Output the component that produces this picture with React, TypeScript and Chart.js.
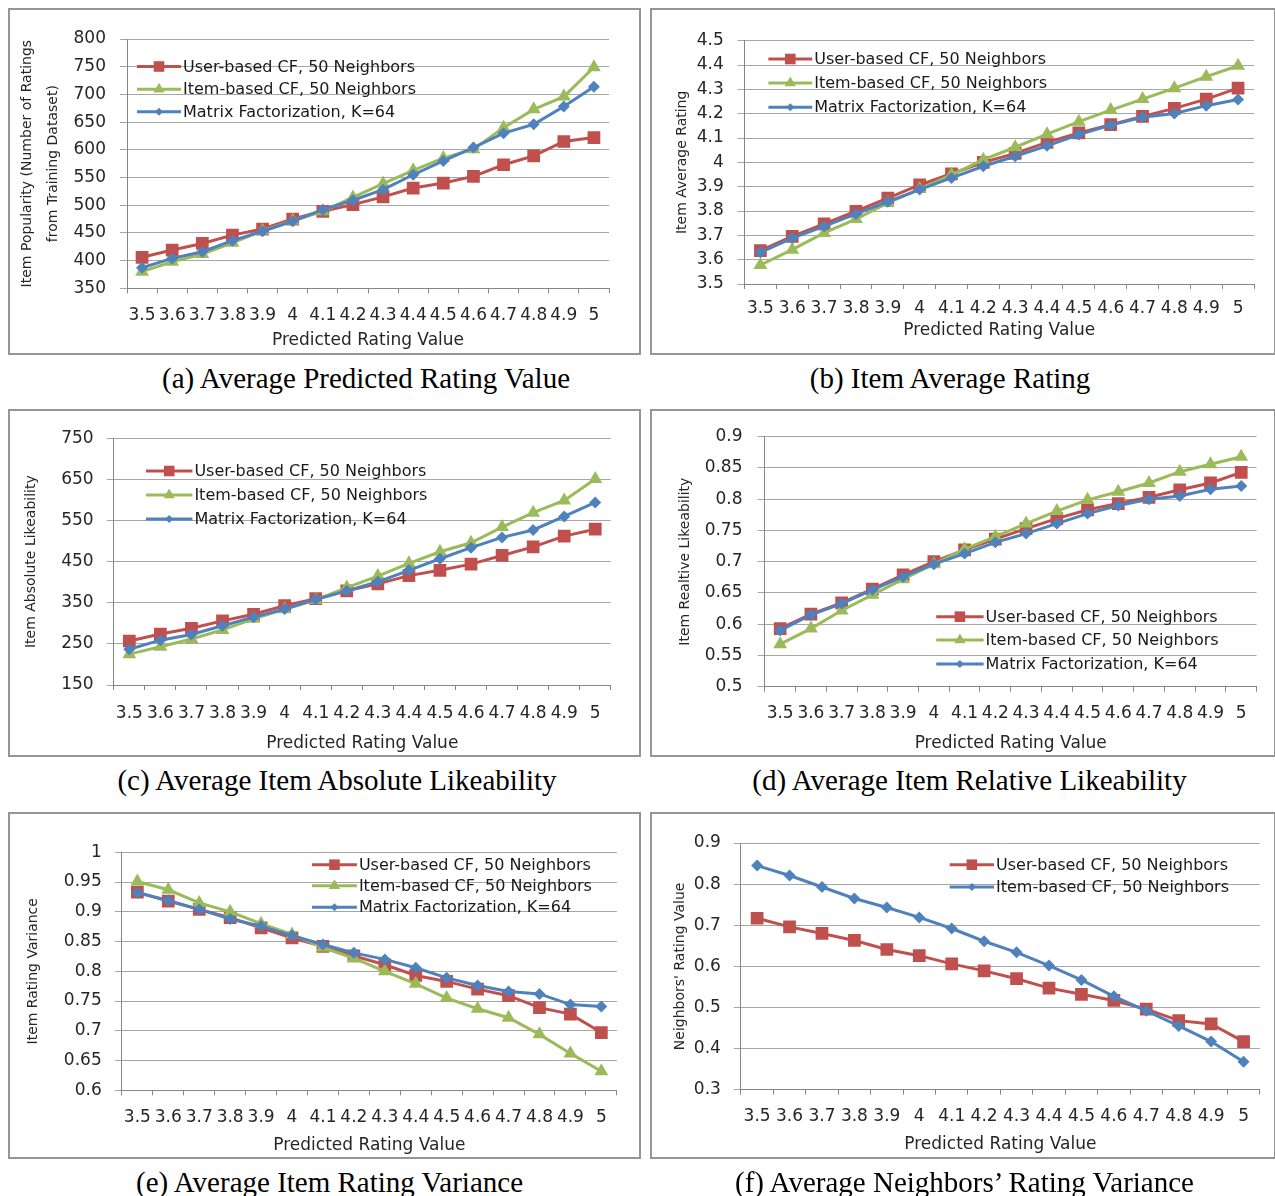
import React, { useEffect, useRef } from "react";
import { Chart, registerables } from "chart.js";
Chart.register(...registerables);

// ---------- data ----------
const xLabels = ["3.5", "3.6", "3.7", "3.8", "3.9", "4", "4.1", "4.2", "4.3", "4.4", "4.5", "4.6", "4.7", "4.8", "4.9", "5"];

const seriesUser = "User-based CF, 50 Neighbors";
const seriesItem = "Item-based CF, 50 Neighbors";
const seriesMF = "Matrix Factorization, K=64";

const aUser = [406, 419, 431, 446, 457, 475, 489, 501, 515, 531, 540, 552, 573, 589, 615, 622];
const aItem = [380, 398, 412, 432, 454, 472, 489, 514, 539, 563, 585, 601, 640, 673, 696, 749];
const aMF = [387, 404, 416, 436, 453, 471, 492, 509, 528, 555, 580, 604, 630, 646, 678, 714];

const bUser = [3.637, 3.696, 3.747, 3.799, 3.853, 3.907, 3.953, 4.0, 4.037, 4.082, 4.121, 4.155, 4.189, 4.222, 4.26, 4.305];
const bItem = [3.578, 3.641, 3.71, 3.767, 3.833, 3.89, 3.949, 4.011, 4.062, 4.116, 4.167, 4.215, 4.26, 4.305, 4.352, 4.397];
const bMF = [3.63, 3.689, 3.737, 3.788, 3.838, 3.888, 3.936, 3.984, 4.025, 4.068, 4.114, 4.153, 4.185, 4.201, 4.233, 4.258];

const cUser = [257, 274, 288, 306, 322, 343, 360, 379, 396, 416, 429, 444, 465, 486, 512, 529];
const cItem = [225, 243, 262, 284, 311, 334, 357, 387, 415, 446, 474, 496, 534, 569, 599, 651];
const cMF = [237, 259, 273, 294, 315, 335, 358, 379, 401, 429, 457, 484, 509, 527, 560, 594];

const dUser = [0.593, 0.616, 0.634, 0.656, 0.679, 0.7, 0.719, 0.736, 0.753, 0.769, 0.783, 0.793, 0.803, 0.815, 0.826, 0.843];
const dItem = [0.568, 0.593, 0.622, 0.647, 0.672, 0.696, 0.72, 0.74, 0.761, 0.781, 0.799, 0.812, 0.826, 0.844, 0.856, 0.868];
const dMF = [0.59, 0.615, 0.633, 0.655, 0.676, 0.696, 0.713, 0.731, 0.745, 0.761, 0.777, 0.79, 0.8, 0.805, 0.816, 0.821];

const eUser = [0.933, 0.918, 0.904, 0.89, 0.873, 0.856, 0.842, 0.826, 0.811, 0.793, 0.783, 0.77, 0.759, 0.739, 0.728, 0.697];
const eItem = [0.951, 0.937, 0.915, 0.9, 0.88, 0.862, 0.84, 0.822, 0.8, 0.779, 0.755, 0.737, 0.722, 0.694, 0.662, 0.632];
const eMF = [0.932, 0.919, 0.904, 0.888, 0.876, 0.86, 0.845, 0.831, 0.82, 0.806, 0.789, 0.776, 0.766, 0.762, 0.744, 0.741];

const fUser = [0.717, 0.696, 0.68, 0.663, 0.641, 0.626, 0.606, 0.589, 0.57, 0.547, 0.532, 0.517, 0.496, 0.468, 0.46, 0.417];
const fItem = [0.845, 0.821, 0.793, 0.765, 0.743, 0.719, 0.692, 0.661, 0.634, 0.602, 0.567, 0.527, 0.492, 0.455, 0.417, 0.368];

// ---------- styles ----------
const RED = "#C0504D";
const GREEN = "#9BBB59";
const BLUE = "#4F81BD";
const FONT = "'DejaVu Sans', sans-serif";
const TEXT = "#262626";

type Shape = "rect" | "triangle" | "rectRot";
interface Series { label: string; data: number[]; color: string; shape: Shape; r: number; lr: number; }
interface PanelCfg {
  box: [number, number, number, number];
  plot: [number, number, number, number]; // left, top, right, bottom
  yMin: number; yMax: number; yStep: number;
  yTitle: string | string[]; yTitleX: number; yTitleLH: number;
  labelRight: number; xLabelY: number; xTitleY: number;
  legendLineX: number; legendTextX: number; legendRows: number[];
  series: Series[];
  caption: string; captionX: number; captionY: number;
}

const U = (data: number[]): Series => ({ label: seriesUser, data, color: RED, shape: "rect", r: 9, lr: 7.5 });
const I = (data: number[]): Series => ({ label: seriesItem, data, color: GREEN, shape: "triangle", r: 8, lr: 6.5 });
const M = (data: number[], label = seriesMF): Series => ({ label, data, color: BLUE, shape: "rectRot", r: 6, lr: 4 });

const panels: PanelCfg[] = [
  {
    box: [9, 9, 640, 354], plot: [127, 39, 609, 288.3], yMin: 350, yMax: 800, yStep: 50,
    yTitle: ["Item Popularity (Number of Ratings", "from Training Dataset)"], yTitleX: 27, yTitleLH: 26,
    labelRight: 106, xLabelY: 316, xTitleY: 341,
    legendLineX: 137, legendTextX: 183, legendRows: [66.5, 89.3, 111.7],
    series: [U(aUser), I(aItem), M(aMF)],
    caption: "(a) Average Predicted Rating Value", captionX: 366, captionY: 378,
  },
  {
    box: [651, 9, 1275, 354], plot: [744.5, 40.7, 1254, 284], yMin: 3.5, yMax: 4.5, yStep: 0.1,
    yTitle: "Item Average Rating", yTitleX: 682, yTitleLH: 16.8,
    labelRight: 723.7, xLabelY: 309, xTitleY: 330.7,
    legendLineX: 768.4, legendTextX: 814.2, legendRows: [59, 83, 107.3],
    series: [U(bUser), I(bItem), M(bMF)],
    caption: "(b) Item Average Rating", captionX: 950, captionY: 378,
  },
  {
    box: [9, 410, 640, 756], plot: [113.8, 438.3, 610.8, 685], yMin: 150, yMax: 750, yStep: 100,
    yTitle: "Item Absolute Likeability", yTitleX: 31.2, yTitleLH: 16.8,
    labelRight: 93.6, xLabelY: 714, xTitleY: 743.3,
    legendLineX: 146, legendTextX: 194.4, legendRows: [471, 495, 519],
    series: [U(cUser), I(cItem), M(cMF)],
    caption: "(c) Average Item Absolute Likeability", captionX: 337, captionY: 780,
  },
  {
    box: [651, 410, 1275, 756], plot: [764.8, 436.7, 1256.6, 686.7], yMin: 0.5, yMax: 0.9, yStep: 0.05,
    yTitle: "Item Realtive Likeability", yTitleX: 685, yTitleLH: 16.8,
    labelRight: 742.5, xLabelY: 714, xTitleY: 743.3,
    legendLineX: 936.2, legendTextX: 985.6, legendRows: [616.7, 640, 664],
    series: [U(dUser), I(dItem), M(dMF)],
    caption: "(d) Average Item Relative Likeability", captionX: 969.5, captionY: 780,
  },
  {
    box: [9, 813, 640, 1158], plot: [121.9, 852.3, 616.8, 1090.3], yMin: 0.6, yMax: 1, yStep: 0.05,
    yTitle: "Item Rating Variance", yTitleX: 33.2, yTitleLH: 16.8,
    labelRight: 101.7, xLabelY: 1118, xTitleY: 1145.7,
    legendLineX: 312, legendTextX: 358.9, legendRows: [864.7, 885.7, 907.3],
    series: [U(eUser), I(eItem), M(eMF)],
    caption: "(e) Average Item Rating Variance", captionX: 329.5, captionY: 1182,
  },
  {
    box: [651, 813, 1275, 1158], plot: [740.9, 843, 1259.8, 1089.7], yMin: 0.3, yMax: 0.9, yStep: 0.1,
    yTitle: "Neighbors' Rating Value", yTitleX: 680, yTitleLH: 16.8,
    labelRight: 720.9, xLabelY: 1117, xTitleY: 1144.7,
    legendLineX: 949.7, legendTextX: 996, legendRows: [864.7, 887],
    series: [U(fUser), M(fItem, seriesItem)],
    caption: "(f) Average Neighbors\u2019 Rating Variance", captionX: 964.5, captionY: 1182,
  },
];

function drawMarker(ctx: CanvasRenderingContext2D, shape: Shape, x: number, y: number, r: number, color: string) {
  ctx.fillStyle = color;
  ctx.beginPath();
  if (shape === "rect") {
    const s = r * Math.SQRT1_2;
    ctx.rect(x - s, y - s, 2 * s, 2 * s);
  } else if (shape === "triangle") {
    ctx.moveTo(x, y - r);
    ctx.lineTo(x + r * 0.866, y + r * 0.5);
    ctx.lineTo(x - r * 0.866, y + r * 0.5);
    ctx.closePath();
  } else {
    ctx.moveTo(x - r, y);
    ctx.lineTo(x, y - r);
    ctx.lineTo(x + r, y);
    ctx.lineTo(x, y + r);
    ctx.closePath();
  }
  ctx.fill();
}

const TICK_FONT = 17;
const XTITLE_FONT = 17;
const YTITLE_FONT = 14;
const YTICK_LEN = 7;
const XTICK_LEN = 5;

function Panel({ cfg }: { cfg: PanelCfg }) {
  const ref = useRef<HTMLCanvasElement | null>(null);
  const [bx0, by0, bx1, by1] = cfg.box;
  const [pl, pt, pr, pb] = cfg.plot;
  const W = bx1 - bx0;
  const H = by1 - by0;

  useEffect(() => {
    if (!ref.current) return;
    const tickLH = TICK_FONT * 1.2;
    const xTitleLH = XTITLE_FONT * 1.2;
    const legendPlugin = {
      id: "panelLegend",
      afterDraw(chart: any) {
        const ctx: CanvasRenderingContext2D = chart.ctx;
        ctx.save();
        cfg.series.forEach((s, i) => {
          const y = cfg.legendRows[i] - by0;
          const x0 = cfg.legendLineX - bx0;
          const x1 = cfg.legendTextX - bx0 - 2;
          ctx.strokeStyle = s.color;
          ctx.lineWidth = 3;
          ctx.beginPath();
          ctx.moveTo(x0, y);
          ctx.lineTo(x1, y);
          ctx.stroke();
          drawMarker(ctx, s.shape, (x0 + x1) / 2, y, s.lr, s.color);
          ctx.fillStyle = "#1a1a1a";
          ctx.font = `16px ${FONT}`;
          ctx.textAlign = "left";
          ctx.textBaseline = "middle";
          ctx.fillText(s.label, cfg.legendTextX - bx0, y + 1);
        });
        ctx.restore();
      },
    };
    const n = cfg.series.length;
    const chart = new Chart(ref.current, {
      type: "line",
      data: {
        labels: xLabels,
        datasets: cfg.series.map((s, i) => ({
          label: s.label,
          data: s.data,
          borderColor: s.color,
          backgroundColor: s.color,
          borderWidth: 3,
          tension: 0,
          pointStyle: s.shape,
          pointRadius: s.r,
          pointBackgroundColor: s.color,
          pointBorderColor: s.color,
          pointBorderWidth: 0,
          order: n - i,
        })),
      },
      options: {
        responsive: false,
        animation: false,
        devicePixelRatio: 1,
        events: [],
        layout: { padding: { left: 0, top: pt - by0, right: bx1 - pr, bottom: 0 } },
        plugins: { legend: { display: false }, tooltip: { enabled: false } },
        scales: {
          x: {
            type: "category",
            offset: true,
            grid: { offset: true, drawOnChartArea: false, drawTicks: true, tickLength: XTICK_LEN, color: "#868686" },
            border: { display: true, color: "#868686", width: 1 },
            ticks: {
              autoSkip: false, maxRotation: 0, minRotation: 0,
              padding: cfg.xLabelY - pb - XTICK_LEN - tickLH / 2,
              font: { family: FONT, size: TICK_FONT }, color: TEXT,
            },
            title: {
              display: true, text: "Predicted Rating Value", color: TEXT,
              font: { family: FONT, size: XTITLE_FONT },
              padding: { top: 0, bottom: by1 - cfg.xTitleY - xTitleLH / 2 },
            },
            afterFit: (s: any) => { s.height = by1 - pb; s.paddingLeft = 0; s.paddingRight = 0; },
          },
          y: {
            min: cfg.yMin, max: cfg.yMax,
            grid: { color: "#a6a6a6", tickLength: YTICK_LEN, drawTicks: true },
            border: { display: true, color: "#868686", width: 1 },
            ticks: {
              stepSize: cfg.yStep, autoSkip: false,
              padding: pl - YTICK_LEN - cfg.labelRight,
              font: { family: FONT, size: TICK_FONT }, color: TEXT,
              callback: (v: any) => String(Math.round(Number(v) * 1000) / 1000),
            },
            title: {
              display: true, text: cfg.yTitle as any, color: TEXT,
              font: { family: FONT, size: YTITLE_FONT, lineHeight: cfg.yTitleLH / YTITLE_FONT },
              padding: { top: cfg.yTitleX - bx0 - cfg.yTitleLH / 2, bottom: 0 },
            },
            afterFit: (s: any) => { s.width = pl - bx0; s.paddingTop = 0; s.paddingBottom = 0; },
          },
        },
      } as any,
      plugins: [legendPlugin],
    });
    return () => chart.destroy();
  }, [cfg]);

  return (
    <>
      <canvas
        ref={ref}
        width={W}
        height={H}
        style={{ position: "absolute", left: bx0, top: by0, width: W, height: H }}
      />
      <div
        style={{
          position: "absolute", left: bx0 - 1, top: by0 - 1, width: W + 2, height: H + 2,
          border: "2px solid #959595", boxSizing: "border-box", pointerEvents: "none",
        }}
      />
      <div
        style={{
          position: "absolute", left: cfg.captionX, top: cfg.captionY - 16, transform: "translateX(-50%)",
          font: "29px 'Liberation Serif', 'Times New Roman', serif", lineHeight: "32px",
          whiteSpace: "nowrap", color: "#000",
        }}
      >
        {cfg.caption}
      </div>
    </>
  );
}

export default function App() {
  return (
    <div style={{ position: "absolute", left: 0, top: 0, width: 1275, height: 1196, background: "#fff", overflow: "hidden" }}>
      {panels.map((p, i) => <Panel key={i} cfg={p} />)}
    </div>
  );
}
